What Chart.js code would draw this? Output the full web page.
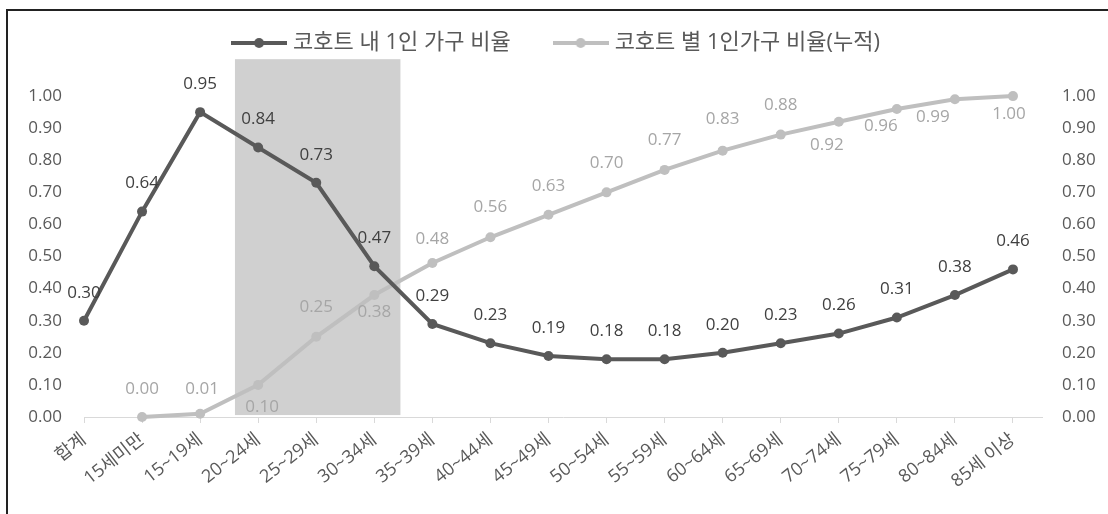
<!DOCTYPE html>
<html lang="ko">
<head>
<meta charset="utf-8">
<title>코호트별 1인 가구 비율</title>
<script src="https://cdn.jsdelivr.net/npm/chart.js@4.4.1/dist/chart.umd.min.js"></script>
<style>
    html, body { margin: 0; padding: 0; background: #fff; }
    #wrap { position: relative; width: 1108px; height: 514px; overflow: hidden; }
    #frame {
        position: absolute; left: 6px; top: 9px; right: -10px; bottom: -10px;
        border-left: 2px solid #222; border-top: 2px solid #222;
        pointer-events: none;
    }
</style>
</head>
<body>
<div id="wrap">
    <canvas id="chart" width="1108" height="514"></canvas>
    <div id="frame"></div>
</div>
<script>
// Data
const categories = ['합계', '15세미만', '15~19세', '20~24세', '25~29세', '30~34세', '35~39세',
    '40~44세', '45~49세', '50~54세', '55~59세', '60~64세', '65~69세', '70~74세',
    '75~79세', '80~84세', '85세 이상'];
const withinCohort = [0.30, 0.64, 0.95, 0.84, 0.73, 0.47, 0.29, 0.23, 0.19, 0.18, 0.18,
    0.20, 0.23, 0.26, 0.31, 0.38, 0.46];
const cumulative = [null, 0.00, 0.01, 0.10, 0.25, 0.38, 0.48, 0.56, 0.63, 0.70, 0.77,
    0.83, 0.88, 0.92, 0.96, 0.99, 1.00];
const yTicks = [0, 0.1, 0.2, 0.3, 0.4, 0.5, 0.6, 0.7, 0.8, 0.9, 1.0];
const seriesNames = ['코호트 내 1인 가구 비율', '코호트 별 1인가구 비율(누적)'];

const FONT = '"Open Sans", "Noto Sans CJK KR", sans-serif';
const DARK = '#595959';
const LIGHT = '#BFBFBF';

// label offsets [dx, dy] from each point
const darkLabelShift = withinCohort.map(() => [0, -28]);
const lightLabelShift = [null, [0, -28], [2, -25], [4, 22], [0, -30], [0, 17], [0, -24],
    [0, -30], [0, -29], [0, -29], [0, -30], [0, -31], [0, -29], [-12, 23], [-16, 17],
    [-22, 18], [-4, 18]];

function legendMarker(color) {
    const c = document.createElement('canvas');
    c.width = 56;
    c.height = 14;
    const g = c.getContext('2d');
    g.strokeStyle = color;
    g.lineWidth = 4;
    g.beginPath();
    g.moveTo(0, 7);
    g.lineTo(56, 7);
    g.stroke();
    g.fillStyle = color;
    g.beginPath();
    g.arc(28, 7, 5, 0, Math.PI * 2);
    g.fill();
    return c;
}
const legendMarkers = [legendMarker(DARK), legendMarker(LIGHT)];

// grey box behind the 20~34 cohorts
const highlightBox = {
    id: 'highlightBox',
    beforeDatasetsDraw(chart, args, opts) {
        const { ctx, scales: { x, y } } = chart;
        const left = x.getPixelForValue(opts.from);
        const right = x.getPixelForValue(opts.to);
        const top = y.getPixelForValue(opts.top);
        const bottom = y.getPixelForValue(opts.bottom);
        ctx.save();
        ctx.fillStyle = opts.color;
        ctx.fillRect(left, top, right - left, bottom - top);
        ctx.restore();
    }
};

// value labels on every point
const valueLabels = {
    id: 'valueLabels',
    afterDatasetsDraw(chart, args, opts) {
        const { ctx } = chart;
        chart.data.datasets.forEach((ds, i) => {
            const meta = chart.getDatasetMeta(i);
            const shifts = opts.shifts[i];
            ctx.save();
            ctx.font = `${opts.size}px ${FONT}`;
            ctx.fillStyle = opts.colors[i];
            ctx.textAlign = 'center';
            ctx.textBaseline = 'middle';
            meta.data.forEach((pt, j) => {
                const v = ds.data[j].y;
                if (v === null || v === undefined) return;
                const [dx, dy] = shifts[j] || [0, -28];
                ctx.fillText(v.toFixed(2), pt.x + dx, pt.y + dy);
            });
            ctx.restore();
        });
    }
};

const toPoints = arr => arr.map((y, i) => ({ x: i, y }));

const yAxis = (position, width, padding) => ({
    position,
    min: 0,
    max: 1.1,
    afterBuildTicks: scale => { scale.ticks = yTicks.map(v => ({ value: v })); },
    afterFit: scale => { scale.width = width; },
    ticks: {
        padding,
        color: DARK,
        font: { family: FONT, size: 17 },
        callback: v => v.toFixed(2)
    },
    grid: { display: false, drawTicks: false },
    border: { display: false }
});

new Chart(document.getElementById('chart'), {
    type: 'line',
    data: {
        datasets: [{
            label: seriesNames[0],
            data: toPoints(withinCohort),
            yAxisID: 'y',
            borderColor: DARK,
            backgroundColor: DARK,
            borderWidth: 4,
            pointRadius: 5,
            pointBorderWidth: 0,
            pointBackgroundColor: DARK,
            tension: 0,
            clip: false,
            order: 1
        }, {
            label: seriesNames[1],
            data: toPoints(cumulative),
            yAxisID: 'y1',
            borderColor: LIGHT,
            backgroundColor: LIGHT,
            borderWidth: 4,
            pointRadius: 5,
            pointBorderWidth: 0,
            pointBackgroundColor: LIGHT,
            tension: 0,
            clip: false,
            order: 2
        }]
    },
    options: {
        responsive: false,
        animation: false,
        layout: { padding: { top: -15, left: 8, right: 0, bottom: 0 } },
        scales: {
            x: {
                type: 'linear',
                min: 0,
                max: 16.5,
                afterBuildTicks: scale => {
                    scale.ticks = categories.map((c, i) => ({ value: i }));
                },
                afterFit: scale => { scale.height = 97; },
                ticks: {
                    autoSkip: false,
                    minRotation: 38,
                    maxRotation: 38,
                    padding: 6,
                    color: DARK,
                    font: { family: FONT, size: 18 },
                    callback: v => categories[v]
                },
                grid: {
                    display: true,
                    drawOnChartArea: false,
                    drawTicks: true,
                    tickLength: 6,
                    color: '#D9D9D9'
                },
                border: { display: true, color: '#D9D9D9', width: 1 }
            },
            y: yAxis('left', 76, 22),
            y1: yAxis('right', 66, 20)
        },
        plugins: {
            legend: {
                position: 'top',
                labels: {
                    usePointStyle: true,
                    pointStyleWidth: 46,
                    padding: 47,
                    color: DARK,
                    font: { family: FONT, size: 22 },
                    generateLabels(chart) {
                        const items = Chart.defaults.plugins.legend.labels.generateLabels(chart);
                        items.forEach((it, i) => { it.pointStyle = legendMarkers[i]; });
                        return items;
                    }
                }
            },
            tooltip: { enabled: false },
            highlightBox: { from: 2.6, to: 5.45, top: 1.115, bottom: 0.006, color: '#D0D0D0' },
            valueLabels: {
                size: 17,
                colors: ['#404040', '#A6A6A6'],
                shifts: [darkLabelShift, lightLabelShift]
            }
        }
    },
    plugins: [highlightBox, valueLabels]
});
</script>
</body>
</html>
